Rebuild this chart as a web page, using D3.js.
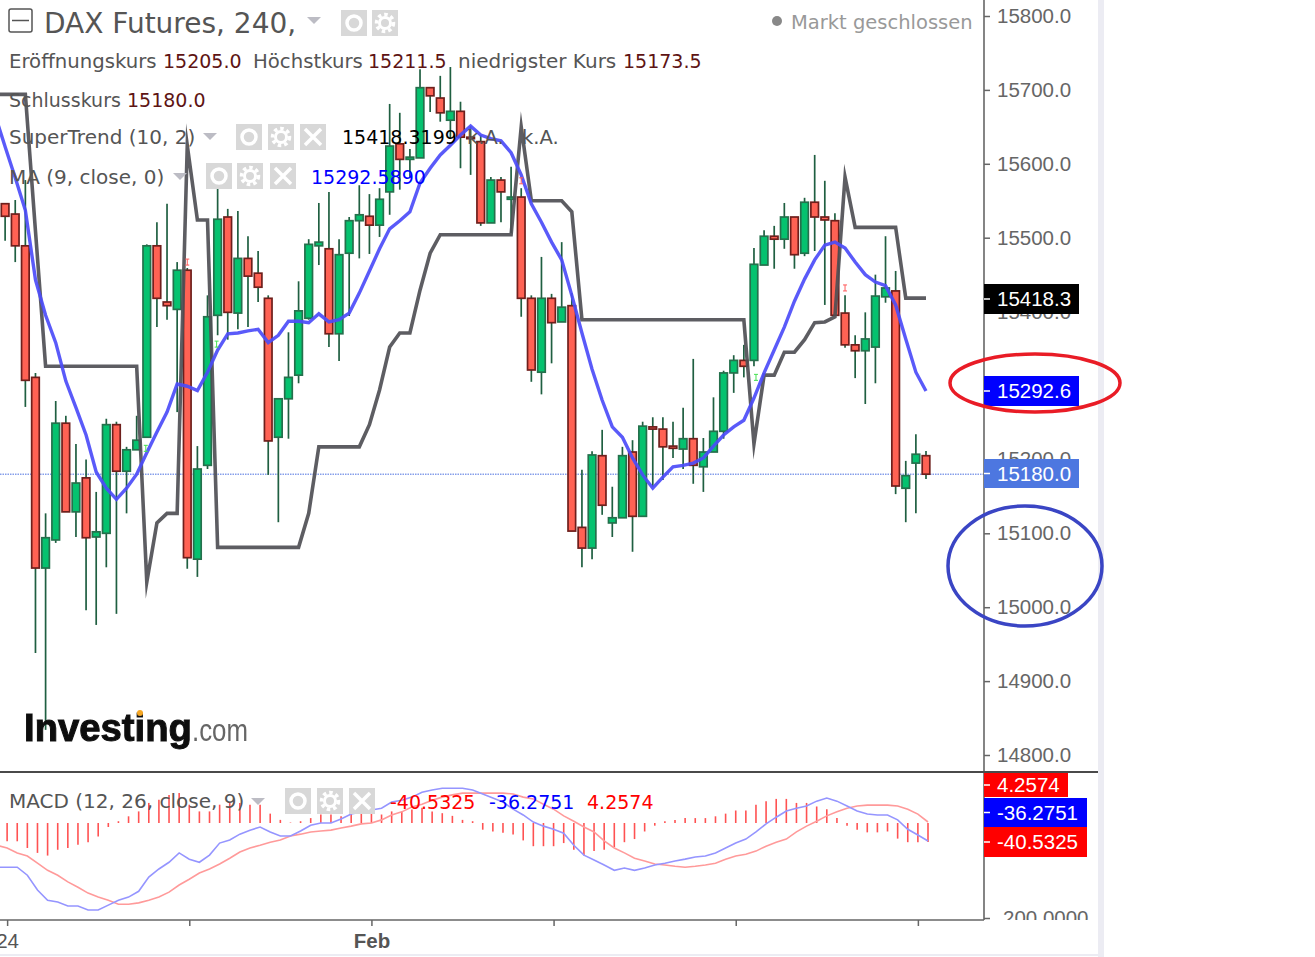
<!DOCTYPE html>
<html>
<head>
<meta charset="utf-8">
<title>DAX Futures</title>
<script src="https://cdnjs.cloudflare.com/ajax/libs/d3/7.8.5/d3.min.js"></script>
<style>
  body { margin: 0; background: #fff; }
  svg { display: block; }
  .legend { font-family: "DejaVu Sans", sans-serif; }
  .axis text { font-family: "Liberation Sans", Arial, sans-serif; font-size: 20.5px; fill: #666; }
  .axis line { stroke: #666; stroke-width: 1.5; }
</style>
</head>
<body>
<svg id="chart" width="1315" height="957"></svg>
<script>
// 4h candles (first one is cut by the left edge)
const openPrice = [15462,15546,15532,15489,15311,15053,15091,15249,15129,15175,15095,15100,15247,15184,15213,15230,15489,15413,15403,15456,15065,15192,15395,15528,15398,15472,15452,15418,15230,15282,15314,15391,15489,15485,15370,15479,15523,15529,15517,15562,15627,15606,15608,15703,15689,15659,15671,15636,15630,15520,15578,15552,15555,15418,15318,15418,15386,15408,15108,15080,15205,15114,15121,15210,15123,15244,15241,15218,15214,15228,15190,15210,15238,15317,15334,15334,15463,15502,15498,15528,15479,15548,15528,15523,15398,15355,15347,15352,15420,15428,15161,15195,15205];
const highPrice = [15475,15546,15551,15578,15317,15127,15279,15259,15221,15200,15156,15255,15251,15217,15259,15491,15521,15546,15467,15459,15218,15422,15581,15539,15536,15502,15482,15422,15282,15372,15441,15498,15547,15562,15498,15528,15571,15559,15567,15681,15669,15620,15728,15703,15719,15731,15684,15651,15639,15582,15582,15596,15567,15422,15474,15424,15494,15425,15186,15211,15240,15163,15217,15226,15251,15257,15257,15251,15270,15336,15229,15284,15320,15341,15355,15486,15510,15516,15547,15528,15554,15612,15577,15533,15422,15368,15399,15450,15502,15455,15198,15234,15211.5];
const lowPrice = [15425,15496,15467,15271,14938,14834,15087,15129,15095,14996,14976,15054,14991,15127,15213,15230,15379,15389,15264,15052,15041,15187,15368,15362,15376,15379,15413,15179,15115,15228,15303,15389,15463,15352,15333,15394,15472,15478,15501,15531,15565,15582,15608,15670,15657,15635,15594,15585,15516,15520,15521,15506,15393,15305,15288,15330,15386,15103,15054,15065,15125,15095,15121,15075,15123,15163,15172,15202,15187,15167,15156,15210,15228,15290,15311,15326,15463,15458,15485,15458,15475,15482,15409,15395,15351,15310,15275,15303,15412,15153,15115,15127,15173.5];
const closePrice = [15439,15529,15489,15307,15053,15094,15249,15129,15168,15094,15102,15247,15184,15213,15226,15489,15418,15408,15456,15067,15187,15393,15525,15399,15472,15448,15433,15225,15282,15311,15401,15491,15494,15370,15477,15523,15531,15517,15552,15624,15606,15609,15703,15692,15669,15671,15636,15634,15520,15578,15562,15555,15418,15321,15418,15385,15406,15103,15080,15206,15138,15121,15205,15123,15245,15241,15217,15215,15228,15192,15210,15238,15317,15334,15326,15464,15502,15498,15528,15477,15548,15528,15524,15395,15355,15347,15363,15421,15432,15164,15178,15207,15180];

const superTrend = [15694,15694,15694,15694,15509,15326,15326,15326,15326,15326,15326,15326,15326,15326,15326,15034,15114,15127,15127,15625,15524,15524,15081,15081,15081,15081,15081,15081,15081,15081,15081,15127,15217,15217,15217,15217,15217,15247,15294,15352,15371,15371,15429,15479,15504,15504,15504,15504,15504,15504,15504,15504,15650,15550,15550,15550,15550,15535,15389,15389,15389,15389,15389,15389,15389,15389,15389,15389,15389,15389,15389,15389,15389,15389,15389,15221,15314,15314,15345,15345,15362,15385,15386,15393,15582,15514,15514,15514,15514,15514,15418.3,15418.3,15418.3];
const movingAvg = [15666,15623,15581,15537,15443,15395,15358,15306,15270,15233,15183,15161,15146,15161,15180,15209,15237,15264,15302,15299,15293,15318,15348,15370,15371,15374,15376,15358,15368,15387,15387,15385,15397,15386,15389,15398,15425,15455,15485,15512,15523,15535,15574,15594,15612,15625,15639,15651,15639,15634,15631,15615,15585,15546,15521,15494,15470,15422,15371,15322,15280,15244,15230,15202,15179,15161,15176,15190,15192,15195,15202,15218,15233,15244,15253,15283,15317,15348,15379,15414,15444,15470,15490,15494,15486,15467,15450,15440,15435,15409,15363,15318,15292.6];

const macdLine = [-46.4,-46.4,-46.4,-48.2,-51.5,-53.8,-54.2,-55.1,-55.1,-56.0,-56.0,-54.9,-53.8,-53.1,-51.8,-48.6,-46.8,-45.3,-43.2,-44.6,-45.3,-43.7,-41.0,-40.3,-39.0,-38.1,-37.4,-38.5,-39.4,-39.4,-38.3,-37.0,-36.5,-36.5,-35.6,-34.5,-34.0,-33.6,-33.2,-31.8,-31.4,-30.7,-29.6,-29.1,-28.7,-28.7,-28.7,-29.1,-30.0,-30.9,-31.8,-33.4,-34.7,-36.3,-37.2,-37.9,-38.8,-41.5,-43.7,-44.8,-45.9,-47.1,-46.6,-47.1,-46.6,-45.9,-45.5,-45.0,-44.6,-44.1,-43.9,-43.2,-42.1,-41.0,-40.1,-38.5,-36.7,-35.2,-33.8,-33.2,-32.7,-31.6,-30.9,-31.6,-32.7,-33.8,-34.5,-34.7,-34.7,-35.8,-37.9,-39.2,-40.5325];
const signalLine = [-41.5,-42.1,-43.2,-43.9,-45.5,-47.1,-48.2,-49.7,-50.9,-52.2,-53.1,-53.8,-54.7,-54.7,-54.4,-53.8,-53.1,-52.0,-50.4,-49.1,-47.7,-46.8,-45.7,-44.4,-43.0,-42.1,-41.5,-40.8,-40.3,-39.4,-39.0,-38.5,-38.3,-38.1,-37.6,-37.2,-36.7,-36.5,-35.8,-34.7,-34.0,-32.9,-32.3,-31.4,-30.7,-30.2,-29.8,-29.8,-29.8,-29.8,-29.8,-30.0,-30.7,-31.1,-32.3,-33.4,-34.9,-36.1,-37.4,-38.5,-40.5,-42.1,-43.2,-44.4,-45.0,-45.7,-45.9,-46.2,-46.4,-46.2,-45.9,-45.5,-44.6,-43.9,-43.5,-42.8,-41.7,-40.8,-40.1,-38.5,-37.2,-36.1,-34.9,-34.0,-33.2,-32.7,-32.5,-32.5,-32.5,-32.7,-33.4,-34.5,-36.2751];
const macdHist = [-4.0,-4.1,-4.1,-5.6,-6.7,-7.3,-6.0,-5.6,-4.9,-4.3,-3.0,-0.9,0.4,1.5,2.6,4.5,5.2,6.3,6.7,4.1,2.6,2.6,4.1,4.5,4.5,4.1,4.1,2.1,0.7,0.1,0.4,1.1,1.9,1.9,1.5,2.2,2.6,2.6,1.9,2.6,2.6,3.0,3.4,2.6,2.2,1.6,0.7,0.4,-1.5,-1.9,-2.2,-2.6,-3.9,-5.2,-5.2,-5.2,-4.5,-6.0,-7.3,-6.3,-6.0,-5.4,-4.3,-3.6,-1.9,-0.6,0.4,0.7,1.1,1.1,1.1,1.5,2.1,2.8,2.8,4.1,4.9,5.4,5.4,4.5,4.5,3.7,3.1,1.1,-0.6,-1.5,-2.1,-2.1,-1.9,-3.5,-4.3,-4.3,-4.2574];

const priceTicks = [14800,14900,15000,15100,15200,15300,15400,15500,15600,15700,15800];
const dateTicks = [1,19,37,55,73,91];
const dateLabels = ["24","","Feb","","",""];

// little flip markers of the SuperTrend
const flipUpIdx = [14.9,21.9,75.2];
const flipUpPrice = [15215,15356,15311];
const flipDownIdx = [19,52,84];
const flipDownPrice = [15467,15577,15432];

const svg = d3.select("#chart");
const width = 1315, height = 957;
const axisX = 984, mainBottom = 772, macdBottom = 920;

const x = d3.scaleLinear().domain([0, 92]).range([-5, 926]);
const xLower = d3.scaleLinear().domain([0, 92]).range([-3, 928]);
const y = d3.scaleLinear().domain([14800, 15800]).range([755, 16]);
const yMacd = d3.scaleLinear().domain([-36.2751, -40.5325]).range([822, 841]);
const yHist = d3.scaleLinear().domain([0, -4.2574]).range([823, 842]);
const yMacdAxis = d3.scaleLinear().domain([-200, 0]).range([918, 823]);

const defs = svg.append("defs");
defs.append("clipPath").attr("id", "mainClip").append("rect")
    .attr("x", 0).attr("y", 0).attr("width", axisX).attr("height", mainBottom);
defs.append("clipPath").attr("id", "macdClip").append("rect")
    .attr("x", 0).attr("y", mainBottom).attr("width", axisX).attr("height", macdBottom - mainBottom);
defs.append("clipPath").attr("id", "macdAxisClip").append("rect")
    .attr("x", axisX).attr("y", mainBottom).attr("width", 130).attr("height", macdBottom - mainBottom);
defs.append("filter").attr("id", "logoBlur").append("feGaussianBlur").attr("stdDeviation", 0.5);

// page edge stripes
svg.append("rect").attr("x", 1098).attr("y", 0).attr("width", 6).attr("height", height).attr("fill", "#ececf3");
svg.append("rect").attr("x", 0).attr("y", 954).attr("width", 1104).attr("height", 2).attr("fill", "#ececf3");

// main pane
const main = svg.append("g").attr("clip-path", "url(#mainClip)");

main.append("line")
    .attr("x1", 0).attr("x2", axisX)
    .attr("y1", y(15180)).attr("y2", y(15180))
    .attr("stroke", "#4a6fe0").attr("stroke-width", 1).attr("stroke-dasharray", "1.5,1");

const indexes = d3.range(openPrice.length);

main.append("g").selectAll("line")
    .data(indexes)
    .join("line")
    .attr("x1", i => x(i)).attr("x2", i => x(i))
    .attr("y1", i => y(highPrice[i])).attr("y2", i => y(lowPrice[i]))
    .attr("stroke", "#1f5f41").attr("stroke-width", 1.7);

main.append("g").selectAll("rect")
    .data(indexes)
    .join("rect")
    .attr("x", i => x(i) - 3.8)
    .attr("width", 7.6)
    .attr("y", i => y(Math.max(openPrice[i], closePrice[i])))
    .attr("height", i => Math.max(1, Math.abs(y(openPrice[i]) - y(closePrice[i]))))
    .attr("fill", i => closePrice[i] >= openPrice[i] ? "#05c26f" : "#ff6254")
    .attr("stroke", i => closePrice[i] >= openPrice[i] ? "#25704c" : "#6e1f1c")
    .attr("stroke-width", 1.7);

const priceLine = d3.line().x((d, i) => x(i)).y(d => y(d));

main.append("path")
    .attr("d", priceLine(superTrend))
    .attr("fill", "none").attr("stroke", "#4f4f55").attr("stroke-opacity", 0.92)
    .attr("stroke-width", 3.6).attr("stroke-miterlimit", 30).attr("stroke-linejoin", "miter");

main.append("path")
    .attr("d", priceLine(movingAvg))
    .attr("fill", "none").attr("stroke", "#4c4cf8").attr("stroke-opacity", 0.92)
    .attr("stroke-width", 3.4);

function drawFlip(idx, prices, color) {
  idx.forEach((d, k) => {
    const px = x(d), py = y(prices[k]);
    main.append("path")
        .attr("d", `M${px - 2},${py - 3}H${px + 2}M${px},${py - 3}V${py + 3}M${px - 2},${py + 3}H${px + 2}`)
        .attr("stroke", color).attr("stroke-width", 1).attr("fill", "none");
  });
}
drawFlip(flipUpIdx, flipUpPrice, "#44e050");
drawFlip(flipDownIdx, flipDownPrice, "#ff5a5a");

// macd pane
const macd = svg.append("g").attr("clip-path", "url(#macdClip)");

macd.append("g").selectAll("line")
    .data(indexes)
    .join("line")
    .attr("x1", i => xLower(i)).attr("x2", i => xLower(i))
    .attr("y1", yHist(0))
    .attr("y2", i => yHist(macdHist[i]))
    .attr("stroke", "#ff5252").attr("stroke-width", 1.6);

const macdPath = d3.line().x((d, i) => xLower(i)).y(d => yMacd(d));
macd.append("path").attr("d", macdPath(signalLine))
    .attr("fill", "none").attr("stroke", "#ff9a9a").attr("stroke-width", 1.6);
macd.append("path").attr("d", macdPath(macdLine))
    .attr("fill", "none").attr("stroke", "#9595ff").attr("stroke-width", 1.6);

// axes
const priceAxis = svg.append("g").attr("class", "axis")
    .attr("transform", `translate(${axisX},0)`)
    .call(d3.axisRight(y).tickValues(priceTicks).tickFormat(d3.format(".1f")).tickSize(6).tickPadding(7));
priceAxis.select(".domain").remove();

const macdAxis = svg.append("g").attr("class", "axis").attr("clip-path", "url(#macdAxisClip)");
macdAxis.append("g")
    .attr("transform", `translate(${axisX},0)`)
    .call(d3.axisRight(yMacdAxis).tickValues([-200]).tickFormat(d => d3.format(".4f")(Math.abs(d))).tickSize(6).tickPadding(13))
    .select(".domain").remove();

const dateAxis = svg.append("g").attr("class", "axis")
    .attr("transform", `translate(0,${macdBottom})`)
    .call(d3.axisBottom(xLower).tickValues(dateTicks).tickFormat((d, i) => dateLabels[i]).tickSize(6).tickPadding(7));
dateAxis.select(".domain").remove();
dateAxis.selectAll("text").attr("font-weight", (d, i) => i == 2 ? "bold" : "normal").style("fill", "#555");

svg.append("line").attr("x1", axisX).attr("x2", axisX).attr("y1", 0).attr("y2", macdBottom)
    .attr("stroke", "#666").attr("stroke-width", 1.6);
svg.append("line").attr("x1", 0).attr("x2", 1098).attr("y1", mainBottom).attr("y2", mainBottom)
    .attr("stroke", "#4a4a4a").attr("stroke-width", 1.8);
svg.append("line").attr("x1", 0).attr("x2", axisX).attr("y1", macdBottom).attr("y2", macdBottom)
    .attr("stroke", "#666").attr("stroke-width", 1.6);

// value tags on the axis
function tag(top, h, w, color, label) {
  svg.append("rect").attr("x", axisX).attr("y", top).attr("width", w).attr("height", h).attr("fill", color);
  svg.append("line").attr("x1", axisX).attr("x2", axisX + 6).attr("y1", top + h / 2).attr("y2", top + h / 2)
      .attr("stroke", "#fff").attr("stroke-width", 1.5);
  svg.append("text").attr("x", axisX + 13).attr("y", top + h / 2 + 7)
      .attr("font-family", "Liberation Sans, Arial, sans-serif").attr("font-size", 20.5)
      .attr("fill", "#fff").text(label);
}
tag(284, 30, 95, "#000", "15418.3");
tag(376, 30, 95, "#0000ff", "15292.6");
tag(459, 29, 95, "#4d77e0", "15180.0");
tag(773, 24, 84, "#ff0000", "4.2574");
tag(798, 29, 103, "#0000ff", "-36.2751");
tag(827, 30, 103, "#ff0000", "-40.5325");

// hand drawn circles
svg.append("ellipse").attr("cx", 1035).attr("cy", 383).attr("rx", 85).attr("ry", 29)
    .attr("fill", "none").attr("stroke", "#e91c26").attr("stroke-width", 3.5);
svg.append("ellipse").attr("cx", 1025).attr("cy", 566).attr("rx", 77).attr("ry", 60)
    .attr("fill", "none").attr("stroke", "#3a45c4").attr("stroke-width", 3.5);

// legend text
const legend = svg.append("g").attr("class", "legend");
function label(px, py, txt, color, size) {
  legend.append("text").attr("x", px).attr("y", py).attr("fill", color)
      .attr("font-size", size || 19).text(txt);
}
const grey = "#555", dark = "#5e1414";

legend.append("rect").attr("x", 9).attr("y", 9).attr("width", 23).attr("height", 23).attr("rx", 2)
    .attr("fill", "none").attr("stroke", "#555").attr("stroke-width", 1.5);
legend.append("line").attr("x1", 12).attr("x2", 29).attr("y1", 20.5).attr("y2", 20.5)
    .attr("stroke", "#555").attr("stroke-width", 1.5);

label(44, 33, "DAX Futures, 240,", grey, 28);
label(9, 68, "Eröffnungskurs", grey, 19.7);
label(163, 68, "15205.0", dark);
label(253, 68, "Höchstkurs", grey, 19.7);
label(368, 68, "15211.5", dark);
label(458, 68, "niedrigster Kurs", grey, 20);
label(623, 68, "15173.5", dark);
label(9, 107, "Schlusskurs", grey);
label(127, 107, "15180.0", dark);
label(9, 144, "SuperTrend (10, 2)", grey, 20);
label(342, 144, "15418.3199", "#000");
label(467, 144, "k.A.", grey, 19.5);
label(522, 144, "k.A.", grey, 19.5);
label(9, 184, "MA (9, close, 0)", grey, 20);
label(311, 184, "15292.5890", "#0000ff");
label(9, 808, "MACD (12, 26, close, 9)", grey, 20);
label(390, 809, "-40.5325", "#ff0000");
label(489, 809, "-36.2751", "#0000ff");
label(587, 809, "4.2574", "#ff0000");

legend.append("circle").attr("cx", 777).attr("cy", 21).attr("r", 5).attr("fill", "#888");
label(791, 29, "Markt geschlossen", "#999", 19.5);

function arrowDown(cx, cy) {
  legend.append("path").attr("d", `M${cx - 7},${cy - 3}H${cx + 7}L${cx},${cy + 4}Z`).attr("fill", "#bcbcc4");
}
arrowDown(314, 20);
arrowDown(210, 136);
arrowDown(180, 176);
arrowDown(258, 801);

function iconEye(px, py) {
  legend.append("rect").attr("x", px).attr("y", py).attr("width", 26).attr("height", 26).attr("fill", "#d8d8d8");
  legend.append("circle").attr("cx", px + 13).attr("cy", py + 13).attr("r", 7)
      .attr("fill", "none").attr("stroke", "#fff").attr("stroke-width", 3.5);
}
function iconGear(px, py) {
  legend.append("rect").attr("x", px).attr("y", py).attr("width", 26).attr("height", 26).attr("fill", "#d8d8d8");
  legend.append("circle").attr("cx", px + 13).attr("cy", py + 13).attr("r", 8.5)
      .attr("fill", "none").attr("stroke", "#fff").attr("stroke-width", 3.5).attr("stroke-dasharray", "3.5,3");
  legend.append("circle").attr("cx", px + 13).attr("cy", py + 13).attr("r", 5.5)
      .attr("fill", "none").attr("stroke", "#fff").attr("stroke-width", 3);
}
function iconClose(px, py) {
  legend.append("rect").attr("x", px).attr("y", py).attr("width", 26).attr("height", 26).attr("fill", "#d8d8d8");
  legend.append("path").attr("d", `M${px + 5},${py + 5}L${px + 21},${py + 21}M${px + 21},${py + 5}L${px + 5},${py + 21}`)
      .attr("stroke", "#fff").attr("stroke-width", 3.5);
}
iconEye(341, 10); iconGear(372, 10);
iconEye(236, 124); iconGear(268, 124); iconClose(300, 124);
iconEye(206, 163); iconGear(237, 163); iconClose(270, 163);
iconEye(285, 788); iconGear(317, 788); iconClose(349, 788);

// logo
const logo = svg.append("g").attr("font-family", "Liberation Sans, Arial, sans-serif").attr("filter", "url(#logoBlur)");
logo.append("text").attr("x", 24).attr("y", 741).attr("font-size", 38).attr("font-weight", "bold")
    .attr("fill", "#111").attr("stroke", "#111").attr("stroke-width", 1)
    .attr("textLength", 168).attr("lengthAdjust", "spacingAndGlyphs").text("Investing");
logo.append("text").attr("x", 192).attr("y", 741).attr("font-size", 32)
    .attr("fill", "#666").attr("textLength", 56).attr("lengthAdjust", "spacingAndGlyphs").text(".com");
logo.append("circle").attr("cx", 140).attr("cy", 713).attr("r", 3).attr("fill", "#f5a623");
</script>
</body>
</html>
